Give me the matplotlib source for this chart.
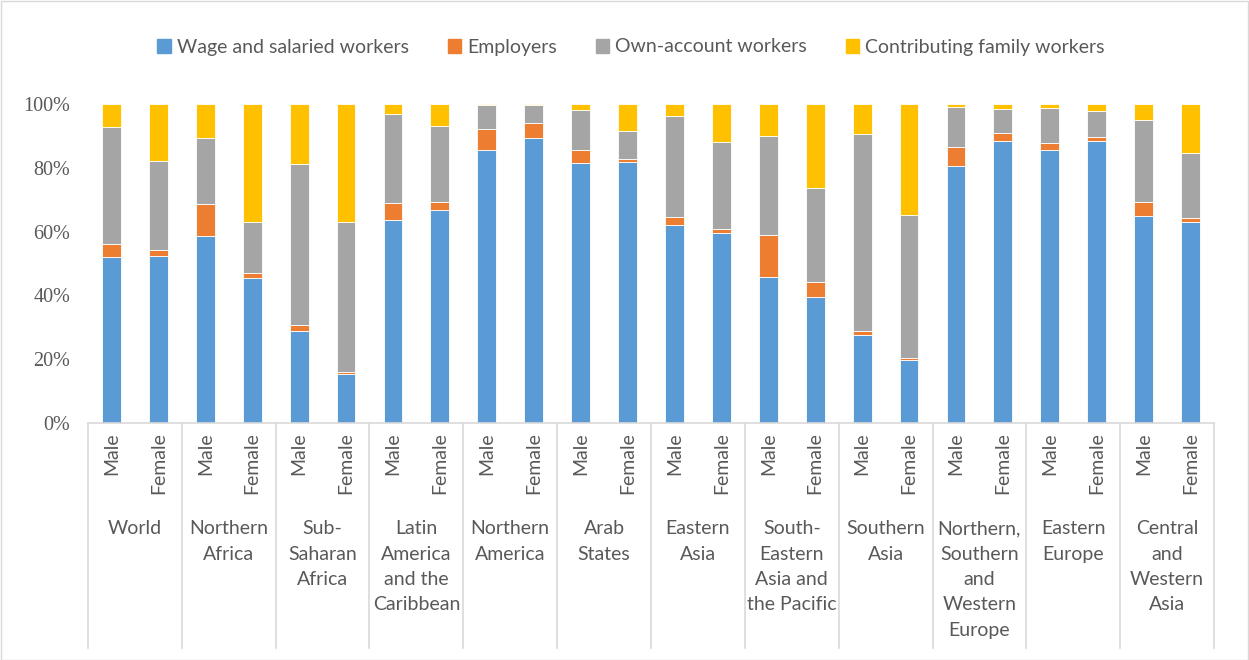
import numpy as np
import matplotlib
matplotlib.use("Agg")
import matplotlib.pyplot as plt
from matplotlib.patches import Rectangle
from matplotlib.lines import Line2D

plt.rcParams['font.family'] = ['Lato', 'DejaVu Sans']
plt.rcParams['font.serif'] = ['Liberation Serif', 'DejaVu Serif']

regions = ["World", "Northern\nAfrica", "Sub-\nSaharan\nAfrica",
           "Latin\nAmerica\nand the\nCaribbean", "Northern\nAmerica",
           "Arab\nStates", "Eastern\nAsia", "South-\nEastern\nAsia and\nthe Pacific",
           "Southern\nAsia", "Northern,\nSouthern\nand\nWestern\nEurope",
           "Eastern\nEurope", "Central\nand\nWestern\nAsia"]
sexes = ["Male", "Female"]

# shares in %, order: World M, World F, N.Africa M, N.Africa F, ...
wage = [52.0, 52.2, 58.5, 45.5, 28.7, 15.3, 63.7, 66.7, 85.6, 89.4, 81.6, 81.8,
        62.0, 59.7, 45.9, 39.4, 27.5, 19.8, 80.6, 88.3, 85.6, 88.3, 64.9, 62.9]
employers = [4.0, 2.0, 10.3, 1.5, 1.9, 0.8, 5.2, 2.7, 6.6, 4.7, 3.9, 0.9,
             2.7, 1.0, 12.9, 4.9, 1.2, 0.7, 5.9, 2.6, 2.3, 1.3, 4.5, 1.5]
own_account = [36.9, 27.9, 20.6, 16.1, 50.5, 46.8, 27.9, 23.8, 7.4, 5.5, 12.7, 8.7,
               31.4, 27.3, 31.2, 29.5, 61.9, 44.6, 12.7, 7.6, 10.9, 8.1, 25.7, 20.1]
family = [7.1, 17.9, 10.6, 36.9, 18.9, 37.1, 3.2, 6.8, 0.4, 0.4, 1.8, 8.6,
          3.9, 12.0, 10.0, 26.2, 9.4, 34.9, 0.8, 1.5, 1.2, 2.3, 4.9, 15.5]
y_ticks = [0, 20, 40, 60, 80, 100]

series = [("Wage and salaried workers", wage, "#5B9BD5"),
          ("Employers", employers, "#ED7D31"),
          ("Own-account workers", own_account, "#A5A5A5"),
          ("Contributing family workers", family, "#FFC000")]

txt_col = "#595959"
W, H = 1249, 660
fig = plt.figure(figsize=(W / 100, H / 100), dpi=100)
ax = fig.add_axes([88 / W, (H - 423) / H, (1214 - 88) / W, (423 - 104) / H])

x = np.arange(len(wage))
bottom = np.zeros(len(wage))
handles = []
for name, vals, col in series:
    v = np.array(vals)
    ax.bar(x, v, width=0.4, bottom=bottom, color=col, edgecolor="white",
           linewidth=0.6)
    bottom += v
    handles.append(Rectangle((0, 0), 1, 1, color=col))

ax.set_xlim(-0.5, len(wage) - 0.5)
ax.set_ylim(0, 100)
ax.set_yticks(y_ticks)
ax.set_yticklabels([])
ax.tick_params(axis="y", length=0)
# percentage labels in a serif face, as in the original
ytrans = ax.get_yaxis_transform()
for t in y_ticks:
    ax.text(-18 / 1126, t, f"{t}%", ha="right", va="center_baseline",
            family="serif", fontsize=14.5, color=txt_col, transform=ytrans)
ax.set_xticks([])
for s in ["top", "right", "left"]:
    ax.spines[s].set_visible(False)
ax.spines["bottom"].set_color("#D9D9D9")
ax.spines["bottom"].set_linewidth(1.2)

# Male / Female labels and region labels
trans = ax.get_xaxis_transform()
for i in range(len(wage)):
    ax.text(i, -0.028, sexes[i % 2], rotation=90, ha="center", va="top",
            fontsize=14, color=txt_col, transform=trans)
for g, reg in enumerate(regions):
    ax.text(2 * g + 0.5, -0.305, reg, ha="center", va="top", fontsize=14,
            color=txt_col, linespacing=1.6, transform=trans)
for g in range(len(regions) + 1):
    xb = 2 * g - 0.5
    ax.add_line(Line2D([xb, xb], [0, -0.705], transform=trans, color="#D9D9D9",
                       linewidth=1.2, clip_on=False))

fig.legend(handles, [s[0] for s in series], loc="center", ncol=4,
           bbox_to_anchor=(631 / W, 1 - 47 / H), frameon=False, fontsize=14,
           handlelength=0.7, handleheight=0.7, handletextpad=0.3,
           columnspacing=2.0, labelcolor=txt_col)

fig.add_artist(Rectangle((0.5 / W, 0.5 / H), 1 - 1.5 / W, 1 - 1.5 / H,
                         transform=fig.transFigure, fill=False,
                         edgecolor="#D9D9D9", linewidth=1))

fig.savefig("out.png", dpi=100)
